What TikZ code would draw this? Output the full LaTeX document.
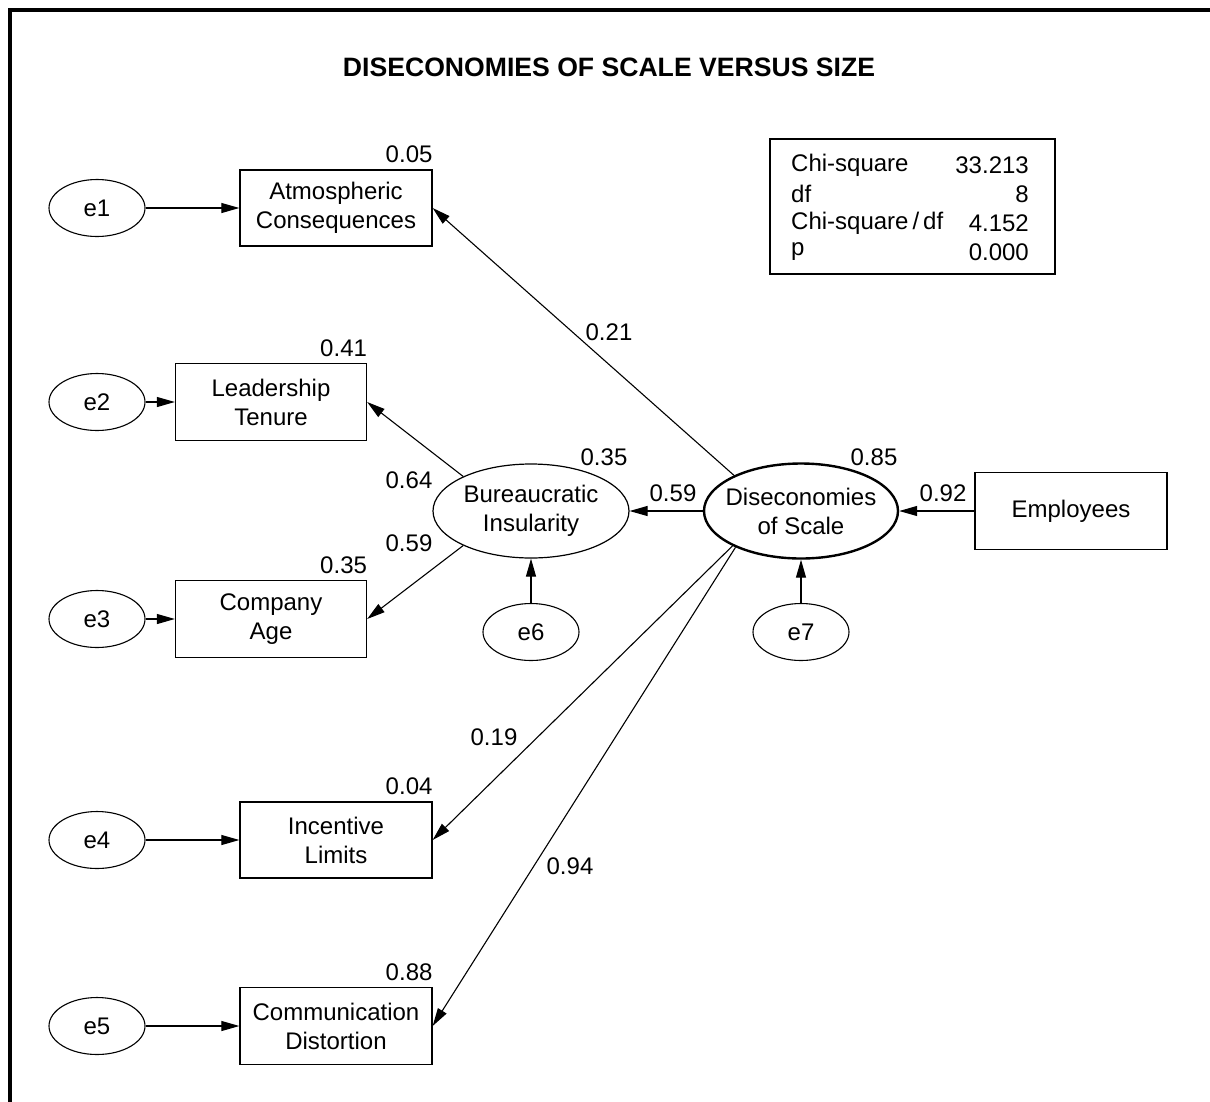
\documentclass[tikz,border=0pt]{standalone}
\usepackage{fontspec}
\setmainfont{Liberation Sans}
\usetikzlibrary{arrows.meta,shapes.geometric}
\begin{document}
\begin{tikzpicture}[x=1pt,y=-1pt,
  font=\fontsize{24}{29}\selectfont,
  obs/.style={draw,line width=1.3pt,minimum width=192pt,minimum height=76pt,inner sep=0pt,align=center},
  lat/.style={draw,ellipse,line width=1.2pt,minimum width=196pt,minimum height=94pt,inner sep=-8pt,align=center},
  err/.style={draw,ellipse,line width=1.1pt,minimum width=96pt,minimum height=57pt,inner sep=0pt},
  path/.style={line width=1.1pt,-{Triangle[length=18pt,width=10pt]}},
  lbl/.style={inner sep=0pt},
  rsq/.style={inner sep=0pt,anchor=south east,yshift=6pt}
]
\useasboundingbox (0,0) rectangle (1210,1101);
\begin{scope}
\clip (0,0) rectangle (1210,1101);
\draw[line width=4pt] (10,10) rectangle (1240,1130);
\end{scope}

\node[lbl,font=\fontsize{26.6}{30}\selectfont\bfseries] (title) at (609,67) {DISECONOMIES OF SCALE VERSUS SIZE};

% observed variables
\node[obs] (atm) at (336,208) {Atmospheric\\Consequences};
\node[obs,minimum width=191pt,minimum height=77pt] (lead) at (271,402) {Leadership\\Tenure};
\node[obs,minimum width=191pt,minimum height=77pt] (comp) at (271,619) {Company\\Age};
\node[obs] (inc) at (336,840) {Incentive\\Limits};
\node[obs,minimum height=77pt] (comm) at (336,1026) {Communication\\Distortion};
\node[obs,minimum height=77pt] (emp) at (1071,511) {Employees};

% latent variables
\node[lat] (bur) at (531,511) {Bureaucratic\\Insularity};
\node[lat,line width=2.4pt,minimum width=194pt,minimum height=95pt] (dis) at (801,511) {Diseconomies\\of Scale};

% errors
\node[err] (e1) at (97,208) {e1};
\node[err] (e2) at (97,402) {e2};
\node[err] (e3) at (97,619) {e3};
\node[err] (e4) at (97,840) {e4};
\node[err] (e5) at (97,1026) {e5};
\node[err] (e6) at (531,632) {e6};
\node[err] (e7) at (801,632) {e7};

% error paths
\draw[path] (e1) -- (atm);
\draw[path] (e2) -- (lead);
\draw[path] (e3) -- (comp);
\draw[path] (e4) -- (inc);
\draw[path] (e5) -- (comm);
\draw[path] (e6) -- (bur);
\draw[path] (e7) -- (dis);

% structural paths
\draw[path] (emp.west) -- (dis.east);
\draw[path] (dis.west) -- (bur.east);
\draw[path] (dis.152.5) -- (atm.east);
\draw[path] (dis.207) -- (inc.east);
\draw[path] (dis.209) -- (comm.east);
\draw[path] (bur.153.8) -- (lead.east);
\draw[path] (bur.207) -- (comp.east);

% squared multiple correlations
\node[rsq] (r1) at (atm.north east) {0.05};
\node[rsq] (r2) at (lead.north east) {0.41};
\node[rsq] (r3) at (comp.north east) {0.35};
\node[rsq] (r4) at (inc.north east) {0.04};
\node[rsq] (r5) at (comm.north east) {0.88};
\node[lbl] (rb) at (604,457) {0.35};
\node[lbl] (rd) at (874,457) {0.85};

% path coefficients
\node[lbl] (p1) at (609,332) {0.21};
\node[lbl] (p2) at (409,480) {0.64};
\node[lbl] (p3) at (409,543) {0.59};
\node[lbl] (p4) at (673,493) {0.59};
\node[lbl] (p5) at (943,493) {0.92};
\node[lbl] (p6) at (494,737) {0.19};
\node[lbl] (p7) at (570,866) {0.94};

% fit box
\node[draw,line width=1.3pt,minimum width=285pt,minimum height=135pt,inner sep=0pt] (fit) at (912.5,206.5) {};
\node[lbl,anchor=west] (f1) at (791,165) {Chi-square};
\node[lbl,anchor=west] (f2) at (791,194) {df};
\node[lbl,anchor=west] (f3) at (791,223) {Chi-square\kern4pt/\kern4pt df};
\node[lbl,anchor=west] (f4) at (791,252) {p};
\node[lbl,anchor=east] (v1) at (1029,165) {33.213};
\node[lbl,anchor=east] (v2) at (1029,194) {8};
\node[lbl,anchor=east] (v3) at (1029,223) {4.152};
\node[lbl,anchor=east] (v4) at (1029,252) {0.000};
\end{tikzpicture}
\end{document}
